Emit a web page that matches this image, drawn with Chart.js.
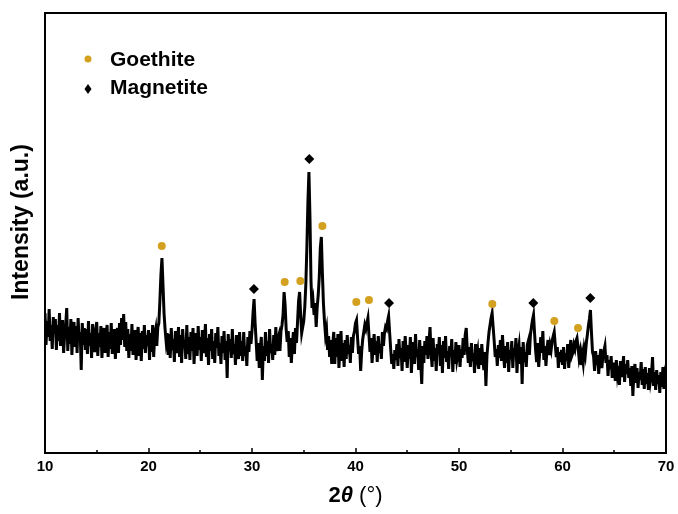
<!DOCTYPE html>
<html>
<head>
<meta charset="utf-8">
<script src="https://cdn.jsdelivr.net/npm/chart.js@4.4.1/dist/chart.umd.min.js"></script>
<style>
html, body { margin: 0; padding: 0; background: #fff; }
#wrap { width: 678px; height: 514px; }
</style>
</head>
<body>
<div id="wrap"><canvas id="xrdChart" width="678" height="514"></canvas></div>
<script>
// XRD scan, 2theta from 10 to 70 in 0.1 degree steps (intensity in a.u.)
const scanStart = 10;
const scanStep = 0.1;

const scan10to20 = [
    140, 108, 132, 116, 144, 112, 128, 104, 136, 119,
    134, 103, 128, 112, 140, 107, 123, 133, 100, 119,
    128, 145, 102, 126, 109, 134, 98, 122, 131, 106,
    127, 100, 135, 112, 121, 83, 130, 108, 125, 103,
    124, 99, 132, 107, 120, 95, 129, 111, 101, 123,
    131, 97, 120, 106, 127, 95, 116, 125, 100, 118,
    128, 96, 121, 104, 130, 99, 115, 124, 94, 117,
    125, 100, 130, 108, 135, 113, 139, 106, 131, 102,
    124, 95, 119, 102, 129, 98, 114, 123, 93, 116,
    126, 97, 120, 92, 122, 104, 128, 100, 118, 107
];
const scan20to30 = [
    123, 93, 120, 101, 128, 96, 118, 124, 107, 126,
    130, 152, 178, 195, 168, 140, 124, 112, 120, 98,
    119, 95, 125, 103, 114, 91, 122, 100, 110, 126,
    96, 118, 90, 124, 105, 113, 94, 128, 99, 116,
    93, 121, 102, 125, 89, 111, 120, 97, 127, 103,
    116, 92, 123, 100, 109, 129, 96, 115, 88, 119,
    102, 124, 94, 112, 90, 120, 105, 126, 97, 110,
    89, 117, 100, 122, 93, 112, 75, 119, 102, 114,
    95, 124, 99, 109, 88, 118, 104, 94, 121, 97,
    112, 92, 121, 97, 107, 87, 116, 101, 122, 109
];
const scan30to40 = [
    122, 140, 154, 130, 112, 92, 110, 85, 104, 116,
    73, 107, 92, 121, 97, 112, 90, 124, 100, 109,
    93, 118, 98, 126, 102, 114, 118, 102, 122, 128,
    138, 161, 148, 124, 111, 122, 96, 115, 90, 108,
    121, 99, 125, 110, 131, 152, 161, 138, 120, 126,
    132, 146, 168, 205, 250, 281, 236, 172, 145, 152,
    138, 150, 126, 146, 158, 176, 205, 216, 180, 150,
    132, 118, 124, 103, 117, 96, 113, 89, 109, 121,
    89, 115, 96, 119, 85, 105, 122, 92, 110, 86,
    113, 94, 118, 99, 108, 90, 116, 100, 117, 122
];
const scan40to50 = [
    130, 133, 115, 99, 107, 82, 102, 114, 121, 128,
    124, 130, 135, 118, 101, 115, 90, 106, 119, 98,
    112, 91, 117, 100, 109, 94, 121, 107, 120, 126,
    124, 132, 137, 120, 104, 89, 99, 84, 103, 93,
    109, 87, 114, 95, 105, 82, 112, 91, 117, 99,
    85, 108, 94, 116, 80, 102, 111, 89, 119, 96,
    104, 83, 113, 92, 69, 107, 90, 112, 98, 117,
    94, 111, 126, 100, 86, 115, 92, 105, 82, 109,
    99, 116, 87, 108, 80, 112, 95, 117, 91, 102,
    84, 107, 97, 114, 81, 103, 89, 111, 93, 99
];
const scan50to60 = [
    108, 86, 104, 95, 115, 98, 118, 125, 103, 90,
    106, 86, 110, 92, 100, 80, 109, 96, 102, 84,
    105, 88, 109, 94, 83, 101, 67, 97, 110, 121,
    128, 135, 140, 126, 112, 96, 104, 87, 108, 95,
    113, 92, 118, 99, 85, 107, 90, 111, 81, 103,
    94, 112, 85, 105, 97, 115, 80, 101, 108, 89,
    106, 69, 111, 91, 101, 86, 108, 112, 98, 118,
    126, 133, 138, 120, 103, 91, 110, 86, 101, 116,
    100, 122, 93, 107, 87, 104, 113, 98, 108, 103,
    112, 117, 121, 108, 96, 106, 85, 101, 91, 103
];
const scan60to70 = [
    88, 106, 84, 100, 92, 109, 85, 102, 113, 97,
    100, 108, 104, 112, 115, 106, 95, 101, 88, 98,
    90, 104, 98, 110, 118, 127, 134, 143, 120, 101,
    97, 82, 102, 88, 98, 79, 95, 104, 85, 96,
    102, 107, 90, 98, 77, 93, 84, 97, 75, 89,
    89, 72, 93, 79, 87, 68, 92, 76, 84, 97,
    71, 89, 79, 93, 75, 85, 67, 87, 57, 81,
    89, 70, 85, 65, 81, 73, 91, 68, 84, 64,
    86, 69, 80, 63, 85, 72, 79, 96, 67, 81,
    63, 83, 69, 78, 60, 81, 66, 86, 64, 77,
    71
];

// phase markers above the reflections
const goethitePos = [21.28, 33.16, 34.67, 36.8, 40.08, 41.3, 53.22, 59.21, 61.5];
const goethiteMark = [207, 171, 172, 227, 151, 153, 149, 132, 125];
const magnetitePos = [30.19, 35.54, 43.24, 57.18, 62.69];
const magnetiteMark = [164, 294, 150, 150, 155];

const xTicks = [10, 20, 30, 40, 50, 60, 70];
const goethiteColor = '#D4A020';
const fontFamily = "Arial, 'Liberation Sans', sans-serif";

const intensity = [].concat(scan10to20, scan20to30, scan30to40, scan40to50, scan50to60, scan60to70);
const scanPoints = intensity.map((y, i) => ({ x: +(scanStart + i * scanStep).toFixed(1), y }));

const framePlugin = {
    id: 'frame',
    afterDraw(chart) {
        const { ctx, chartArea: a, scales: { x } } = chart;
        ctx.save();
        ctx.strokeStyle = '#000';
        ctx.lineWidth = 2;
        ctx.strokeRect(a.left, a.top, a.right - a.left, a.bottom - a.top);

        // inward ticks on the bottom axis, minor halfway between majors
        ctx.lineWidth = 1.5;
        xTicks.forEach((t, i) => {
            const marks = [[t, 5]];
            if (i < xTicks.length - 1) marks.push([(t + xTicks[i + 1]) / 2, 3]);
            marks.forEach(([v, len]) => {
                const px = Math.round(x.getPixelForValue(v));
                ctx.beginPath();
                ctx.moveTo(px, a.bottom);
                ctx.lineTo(px, a.bottom - len);
                ctx.stroke();
            });
        });

        ctx.fillStyle = '#000';
        ctx.textBaseline = 'middle';
        ctx.textAlign = 'left';

        // y axis title
        ctx.save();
        ctx.translate(22, 300);
        ctx.rotate(-Math.PI / 2);
        ctx.font = 'bold 23px ' + fontFamily;
        ctx.fillText('Intensity (a.u.)', 0, 0);
        ctx.restore();

        // x axis title: 2θ (°)
        const parts = [
            ['2', 'bold 22px ' + fontFamily],
            ['θ', 'italic bold 22px ' + fontFamily],
            [' (°)', '22px ' + fontFamily]
        ];
        let total = 0;
        parts.forEach(([t, f]) => { ctx.font = f; total += ctx.measureText(t).width; });
        let cx = (a.left + a.right) / 2 - total / 2;
        parts.forEach(([t, f]) => {
            ctx.font = f;
            ctx.fillText(t, cx, 496);
            cx += ctx.measureText(t).width;
        });

        // legend
        const lx = a.left + 43;
        ctx.fillStyle = goethiteColor;
        ctx.beginPath();
        ctx.arc(lx, a.top + 46, 3.5, 0, Math.PI * 2);
        ctx.fill();
        ctx.fillStyle = '#000';
        const dy = a.top + 76;
        ctx.beginPath();
        ctx.moveTo(lx, dy - 5);
        ctx.lineTo(lx + 3.5, dy);
        ctx.lineTo(lx, dy + 5);
        ctx.lineTo(lx - 3.5, dy);
        ctx.closePath();
        ctx.fill();
        ctx.font = 'bold 21px ' + fontFamily;
        ctx.fillText('Goethite', a.left + 65, a.top + 47);
        ctx.fillText('Magnetite', a.left + 65, a.top + 75);
        ctx.restore();
    }
};

new Chart(document.getElementById('xrdChart'), {
    type: 'line',
    data: {
        datasets: [
            {
                label: 'XRD',
                data: scanPoints,
                borderColor: '#000',
                borderWidth: 3,
                pointRadius: 0,
                tension: 0,
                order: 2
            },
            {
                label: 'Goethite',
                type: 'scatter',
                data: goethitePos.map((x, i) => ({ x, y: goethiteMark[i] })),
                pointStyle: 'circle',
                pointRadius: 4,
                backgroundColor: goethiteColor,
                borderWidth: 0,
                order: 1
            },
            {
                label: 'Magnetite',
                type: 'scatter',
                data: magnetitePos.map((x, i) => ({ x, y: magnetiteMark[i] })),
                pointStyle: 'rectRot',
                pointRadius: 5,
                backgroundColor: '#000',
                borderWidth: 0,
                order: 1
            }
        ]
    },
    options: {
        responsive: false,
        animation: false,
        layout: { padding: { top: 13, right: 12, left: 0, bottom: 0 } },
        plugins: { legend: { display: false }, tooltip: { enabled: false } },
        scales: {
            x: {
                type: 'linear',
                min: 10,
                max: 70,
                afterFit(scale) {
                    scale.height = 61;
                    scale.paddingLeft = 0;
                    scale.paddingRight = 0;
                },
                afterBuildTicks(scale) { scale.ticks = xTicks.map(v => ({ value: v })); },
                grid: { display: false },
                border: { display: false },
                ticks: {
                    color: '#000',
                    padding: -3,
                    font: { family: fontFamily, weight: 'bold', size: 15 }
                }
            },
            y: {
                min: 0,
                max: 440,
                afterFit(scale) { scale.width = 45; },
                grid: { display: false },
                border: { display: false },
                ticks: { display: false }
            }
        }
    },
    plugins: [framePlugin]
});
</script>
</body>
</html>
